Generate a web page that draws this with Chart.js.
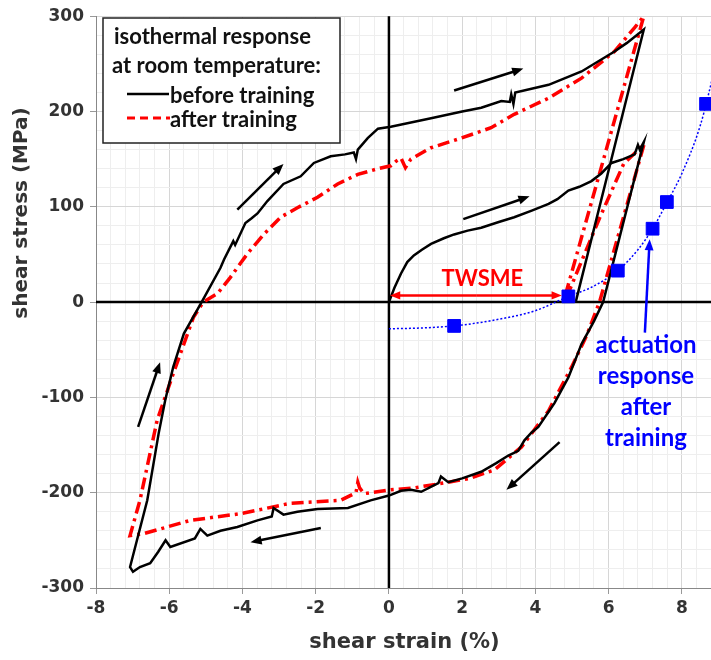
<!DOCTYPE html>
<html>
<head>
<meta charset="utf-8">
<script src="https://cdn.jsdelivr.net/npm/chart.js@4.4.0/dist/chart.umd.min.js"></script>
<style>
  html, body { margin: 0; padding: 0; background: #fff; overflow: hidden; }
  #outer { width: 711px; height: 660px; overflow: hidden; }
  #wrap { width: 723px; height: 660px; }
  canvas { display: block; }
</style>
</head>
<body>
<div id="outer"><div id="wrap"><canvas id="chart"></canvas></div></div>
<script>
// tick labels
const xTicks = [-8, -6, -4, -2, 0, 2, 4, 6, 8];
const yTicks = [-300, -200, -100, 0, 100, 200, 300];

// before training (black), one continuous path
const beforeX = [0, 0.15, 0.33, 0.5, 0.68, 0.9, 1.15, 1.5, 1.78, 2.15, 2.52, 3.0, 3.42, 3.9, 4.36, 4.6, 4.9, 5.2, 5.53, 5.8, 6.08, 6.4, 6.71, 6.8, 6.85, 6.96,
  5.85, 5.6, 5.26, 4.9, 4.52, 4.08, 3.89, 3.7, 3.53, 3.26, 2.93, 2.52, 2.0, 1.62, 1.42, 1.35, 0.88, 0.6, 0.33, 0, -0.5, -1.12, -1.95, -2.5, -2.88, -3.15, -3.2, -3.59, -4.14, -4.6, -4.96, -5.15, -5.3, -5.97, -6.1, -6.3, -6.52, -6.8, -6.99, -7.07,
  -6.6, -6.29, -6.11, -5.89, -5.6, -5.1, -4.6, -4.5, -4.25, -4.2, -3.92, -3.75, -3.59, -3.32, -2.88, -2.41, -2.05, -1.59, -1.2, -0.96, -0.9, -0.85, -0.58, -0.3, 0.05, 1.15, 2.0, 2.52, 3.07, 3.3, 3.34, 3.4, 3.45, 4.36, 5.26, 6.16, 6.5, 6.96,
  5.1];
const beforeY = [0, 15, 30, 42, 49, 55, 61, 67, 71, 75, 78, 84, 89, 96, 103, 108, 117, 121, 127, 135, 146, 150, 155, 165, 160, 168,
  0, -20, -44, -79, -106, -131, -137, -145, -156, -161, -169, -178, -185, -189, -183, -190, -199, -197, -198, -203, -208, -216, -217, -220, -223, -216, -225, -229, -236, -240, -245, -238, -248, -257, -250, -262, -274, -278, -283, -278,
  -208, -138, -103, -68, -33, 1, 36, 45, 64, 60, 83, 88, 93, 106, 124, 132, 146, 153, 155, 157, 150, 160, 172, 182, 184, 193, 200, 204, 211, 210, 218, 208, 220, 228, 242, 263, 272, 286,
  0];

// after training (red), one continuous path
const afterX = [4.85, 5.75, 6.41, 6.97,
  5.75, 5.4, 4.99, 4.36, 3.62, 2.88, 2.2, 1.62, 0.68, 0.05, -0.68, -0.8, -0.85, -0.9, -1.32, -2.68, -4.05, -5.42, -6.7, -7.07,
  -6.8, -6.33, -5.89, -5.34, -5.07, -4.68, -4.33, -3.86, -3.42, -2.96, -2.5, -1.95, -1.4, -0.85, -0.3, 0.05, 0.2, 0.33, 0.45, 0.6, 1.15, 1.97, 2.79, 3.42, 4.36, 5.26, 6.16, 6.71, 6.96,
  4.8];
const afterY = [5, 88, 145, 166,
  0, -35, -68, -114, -152, -176, -185, -189, -195, -197, -201, -195, -189, -200, -208, -211, -222, -229, -243, -245,
  -208, -124, -75, -16, 0, 9, 26, 51, 71, 89, 99, 110, 124, 134, 140, 143, 148, 151, 141, 150, 162, 172, 183, 197, 214, 235, 263, 288, 300,
  5];

// actuation response after training (blue squares) and its dotted fit
const actX = [1.78, 4.9, 6.25, 7.2, 7.59, 8.66];
const actY = [-25, 6, 33, 77, 105, 208];
const fitX = [0, 1, 2, 3, 4, 4.9, 5.5, 6.25, 6.8, 7.2, 7.6, 8.0, 8.5, 8.9];
const fitY = [-28, -27, -24, -18, -9, 6, 15, 33, 55, 77, 105, 135, 185, 245];

// annotation arrows [x1, y1, x2, y2] in data units
const arrows = [
  [1.78, 222, 3.67, 245],
  [-4.14, 97, -2.88, 145],
  [2.03, 87, 3.84, 111],
  [-6.85, -131, -6.25, -63],
  [-1.86, -237, -3.78, -252],
  [4.66, -147, 3.21, -197]
];

const pts = (xs, ys) => xs.map((x, i) => ({ x: x, y: ys[i] }));

const TICK_FONT = { family: 'DejaVu Sans', weight: 'bold', size: 17 };
const TEXT_FONT = 'Lato';

function drawArrow(ctx, x1, y1, x2, y2, color, width, head) {
  const ang = Math.atan2(y2 - y1, x2 - x1);
  ctx.save();
  ctx.strokeStyle = color;
  ctx.fillStyle = color;
  ctx.lineWidth = width;
  ctx.beginPath();
  ctx.moveTo(x1, y1);
  ctx.lineTo(x2 - Math.cos(ang) * head * 0.8, y2 - Math.sin(ang) * head * 0.8);
  ctx.stroke();
  ctx.beginPath();
  ctx.moveTo(x2, y2);
  ctx.lineTo(x2 - head * Math.cos(ang - 0.38), y2 - head * Math.sin(ang - 0.38));
  ctx.lineTo(x2 - head * Math.cos(ang + 0.38), y2 - head * Math.sin(ang + 0.38));
  ctx.closePath();
  ctx.fill();
  ctx.restore();
}

// black zero lines under the data
const zeroLines = {
  id: 'zeroLines',
  beforeDatasetsDraw(chart) {
    const ctx = chart.ctx, a = chart.chartArea;
    const x0 = chart.scales.x.getPixelForValue(0);
    const y0 = chart.scales.y.getPixelForValue(0);
    ctx.save();
    ctx.strokeStyle = '#000';
    ctx.lineWidth = 2.5;
    ctx.beginPath();
    ctx.moveTo(a.left, y0); ctx.lineTo(a.right, y0);
    ctx.moveTo(x0, a.top); ctx.lineTo(x0, a.bottom);
    ctx.stroke();
    ctx.restore();
  }
};

const annotations = {
  id: 'annotations',
  afterDatasetsDraw(chart) {
    const ctx = chart.ctx;
    const xs = chart.scales.x, ys = chart.scales.y;
    const X = v => xs.getPixelForValue(v);
    const Y = v => ys.getPixelForValue(v);

    // black arrows
    arrows.forEach(a => drawArrow(ctx, X(a[0]), Y(a[1]), X(a[2]), Y(a[3]), '#000', 2.5, 12));

    // TWSME double arrow
    const ty = Y(7);
    drawArrow(ctx, X(2.4), ty, X(0.03), ty, '#ff0000', 2.5, 11);
    drawArrow(ctx, X(2.4), ty, X(4.72), ty, '#ff0000', 2.5, 11);
    ctx.save();
    ctx.fillStyle = '#ff0000';
    ctx.font = 'bold 22px ' + TEXT_FONT;
    ctx.textAlign = 'center';
    ctx.textBaseline = 'middle';
    ctx.fillText('TWSME', X(2.55), Y(24));
    ctx.restore();

    // blue arrow + text
    drawArrow(ctx, X(6.99), Y(-32), X(7.12), Y(66), '#0000ff', 2.5, 12);
    ctx.save();
    ctx.fillStyle = '#0000ff';
    ctx.font = 'bold 24px ' + TEXT_FONT;
    ctx.textAlign = 'center';
    ctx.textBaseline = 'middle';
    ['actuation', 'response', 'after', 'training'].forEach((t, i) => ctx.fillText(t, 646, 345 + i * 31));
    ctx.restore();

    // legend box
    ctx.save();
    ctx.fillStyle = '#fff';
    ctx.strokeStyle = '#222';
    ctx.lineWidth = 1.5;
    ctx.fillRect(103, 18, 237, 125);
    ctx.strokeRect(103, 18, 237, 125);
    ctx.fillStyle = '#111';
    ctx.font = 'bold 22px ' + TEXT_FONT;
    ctx.textBaseline = 'middle';
    ctx.textAlign = 'left';
    ctx.fillText('isothermal response', 114, 37);
    ctx.fillText('at room temperature:', 112, 66);
    ctx.fillText('before training', 170, 96);
    ctx.fillText('after training', 170, 120);
    ctx.lineWidth = 2.5;
    ctx.strokeStyle = '#000';
    ctx.beginPath(); ctx.moveTo(127, 94); ctx.lineTo(169, 94); ctx.stroke();
    ctx.strokeStyle = '#ff0000';
    ctx.lineWidth = 3;
    ctx.setLineDash([8, 5]);
    ctx.beginPath(); ctx.moveTo(127, 118); ctx.lineTo(170, 118); ctx.stroke();
    ctx.restore();

    // y axis title
    ctx.save();
    ctx.translate(22, 213);
    ctx.rotate(-Math.PI / 2);
    ctx.fillStyle = '#333';
    ctx.font = 'bold 20px DejaVu Sans';
    ctx.textAlign = 'center';
    ctx.textBaseline = 'middle';
    ctx.fillText('shear stress (MPa)', 0, 0);
    ctx.restore();
  }
};

function gridColor(majors) {
  return c => majors.includes(c.tick.value) ? '#d6d6d6' : '#eeeeee';
}

new Chart(document.getElementById('chart'), {
  type: 'scatter',
  data: {
    datasets: [
      {
        label: 'after training',
        data: pts(afterX, afterY),
        showLine: true,
        borderColor: '#ff0000',
        borderWidth: 3.5,
        borderDash: [12, 5, 3, 5],
        pointRadius: 0,
        order: 2
      },
      {
        label: 'before training',
        data: pts(beforeX, beforeY),
        showLine: true,
        borderColor: '#000',
        borderWidth: 2.5,
        pointRadius: 0,
        order: 1
      },
      {
        label: 'fit',
        data: pts(fitX, fitY),
        showLine: true,
        borderColor: '#0000ff',
        borderWidth: 1.5,
        borderDash: [2, 2],
        cubicInterpolationMode: 'monotone',
        pointRadius: 0,
        order: 3
      },
      {
        label: 'actuation response after training',
        data: pts(actX, actY),
        showLine: false,
        pointStyle: 'rect',
        pointRadius: 9,
        backgroundColor: '#0000ff',
        borderColor: '#0000ff',
        order: 0
      }
    ]
  },
  options: {
    responsive: true,
    maintainAspectRatio: false,
    animation: false,
    layout: { padding: { top: 15, right: 0, left: 0, bottom: 0 } },
    plugins: {
      legend: { display: false },
      tooltip: { enabled: false }
    },
    scales: {
      x: {
        type: 'linear',
        min: -8,
        max: 8.85,
        afterBuildTicks: s => {
          const t = [];
          for (let i = 0; i <= 42; i++) t.push({ value: Math.round((-8 + 0.4 * i) * 10) / 10 });
          s.ticks = t;
        },
        afterFit: s => { s.height = 72; },
        ticks: {
          autoSkip: false,
          maxRotation: 0,
          padding: 4,
          color: '#333',
          font: TICK_FONT,
          callback: v => xTicks.includes(v) ? String(v) : ''
        },
        grid: {
          color: gridColor(xTicks),
          lineWidth: 1,
          tickLength: 6,
          tickColor: c => xTicks.includes(c.tick.value) ? '#999' : 'rgba(0,0,0,0)'
        },
        border: { color: '#888', width: 1 },
        title: {
          display: true,
          text: 'shear strain (%)',
          color: '#333',
          font: { family: 'DejaVu Sans', weight: 'bold', size: 21 },
          padding: { top: 2, bottom: 5 }
        }
      },
      y: {
        type: 'linear',
        min: -300,
        max: 300,
        afterBuildTicks: s => {
          const t = [];
          for (let i = 0; i <= 30; i++) t.push({ value: -300 + 20 * i });
          s.ticks = t;
        },
        afterFit: s => { s.width = 96; },
        ticks: {
          autoSkip: false,
          padding: 6,
          color: '#333',
          font: TICK_FONT,
          callback: v => yTicks.includes(v) ? String(v) : ''
        },
        grid: {
          color: gridColor(yTicks),
          lineWidth: 1,
          tickLength: 6,
          tickColor: c => yTicks.includes(c.tick.value) ? '#999' : 'rgba(0,0,0,0)'
        },
        border: { color: '#888', width: 1 }
      }
    }
  },
  plugins: [zeroLines, annotations]
});
</script>
</body>
</html>
